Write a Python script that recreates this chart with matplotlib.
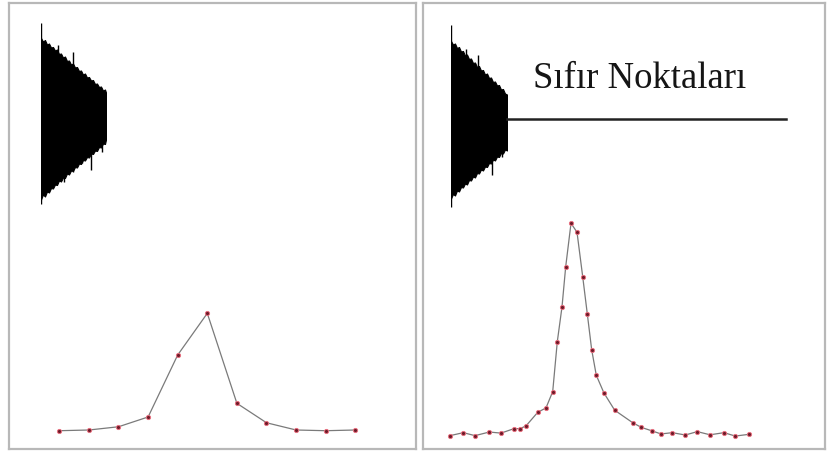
import matplotlib
matplotlib.use("Agg")
import matplotlib.pyplot as plt

W, H = 829, 454

# ---------------- data ----------------
# Left spectrum (11 points, no zero filling)
left_freq = [0, 1, 2, 3, 4, 5, 6, 7, 8, 9, 10]
left_int = [0.25, 0.85, 3.6, 11.9, 64.6, 100.0, 23.5, 7.0, 0.85, 0.25, 0.85]

# Right spectrum (zero filled, 33 points)
right_freq = [-121, -107.7, -96, -81.7, -70, -57, -51, -45, -33.3, -25, -18.3,
              -13.7, -9, -5.3, 0, 6, 11.7, 16.3, 20.7, 25.3, 33, 43.7, 61.7,
              70.3, 81.3, 90, 101.3, 114.3, 126.3, 139, 153, 164.3, 177.7]
right_int = [-0.3, 1.1, -0.3, 1.4, 0.9, 3.0, 3.0, 4.3, 10.7, 12.8, 20.5,
             44.1, 60.5, 79.5, 100.0, 95.8, 74.8, 57.2, 40.2, 28.2, 19.8, 11.7, 5.8,
             3.6, 1.9, 0.5, 1.1, 0.0, 1.6, 0.1, 1.1, -0.5, 0.3]

# FID envelopes (time vs amplitude)
left_t = [0, 2, 4, 6, 8, 10, 12, 14, 16, 18, 20, 22, 24, 26, 28, 30, 32, 34,
          36, 38, 40, 42, 44, 46, 48, 50, 52, 54, 56, 58, 60, 62, 64, 65]
left_up = [79.5, 76, 77.5, 73, 74, 70, 70.5, 67, 68, 63.5, 64, 60, 61, 56.5,
           57, 53, 54, 50, 50.5, 46.5, 47, 43, 44, 40, 40.5, 37, 37.5, 33.5,
           34, 30.5, 31, 27, 28, 25]
left_lo = [-82, -77, -79, -74, -75, -70.5, -71, -67, -67.5, -63, -64, -60,
           -60.5, -56, -57, -53, -53.5, -49.5, -50, -46, -46.5, -42.5, -43,
           -39.5, -40, -36, -36.5, -33, -33.5, -29.5, -30, -26, -26.5, -22]
left_spike_t = [0, 17, 32, 23, 32, 41, 50, 61]
left_spike_top = [94.5, 72.5, 66.0, 0, 0, 0, 0, 0]
left_spike_bot = [-86.0, 0, 0, -64.0, -54.0, -45.5, -52.5, -34.0]

right_t = [0, 2, 4, 6, 8, 10, 12, 14, 16, 18, 20, 22, 24, 26, 28, 30, 32, 34,
           36, 38, 40, 42, 44, 46, 48, 50, 52, 54, 56]
right_up = [77.5, 74, 75, 70.5, 71.5, 67, 67.5, 63, 64, 59.5, 60, 55.5, 56,
            51.5, 52.5, 48, 48.5, 44, 45, 40.5, 41, 36.5, 37, 33, 33.5, 29,
            29.5, 25, 24]
right_lo = [-80, -75.5, -77, -72, -73, -68.5, -69, -65, -66, -61.5, -62, -58,
            -59, -54.5, -55, -51, -52, -48, -48.5, -44.5, -45, -41, -42, -38,
            -38.5, -34.5, -35, -31, -32]
right_spike_t = [0, 15, 27, 41, 51]
right_spike_top = [93.5, 70.0, 63.5, 0, 0]
right_spike_bot = [-88.0, 0, 0, -56.5, -38.0]

# zero points appended to the right FID
zero_t = [56, 335]
zero_amp = [0, 0]

label_text = "Sıfır Noktaları"

# ---------------- helpers ----------------
def rect(x0, y0, x1, y1):
    return [x0 / W, 1 - y1 / H, (x1 - x0) / W, (y1 - y0) / H]

fig = plt.figure(figsize=(W / 100, H / 100), dpi=100)
fig.patch.set_facecolor("white")

# panels
for (x0, x1) in [(9, 416), (423, 825)]:
    ax = fig.add_axes(rect(x0, 3, x1, 449))
    ax.set_xticks([])
    ax.set_yticks([])
    for s in ax.spines.values():
        s.set_color("#b8b8b8")
        s.set_linewidth(1.6)
    ax.set_facecolor("white")

def spectrum(r, f, y, xlim):
    ax = fig.add_axes(r)
    ax.set_xlim(*xlim)
    ax.set_ylim(0, 100)
    ax.axis("off")
    ax.patch.set_alpha(0)
    ax.plot(f, y, color="#7a7a7a", lw=0.9, clip_on=False, zorder=2)
    ax.plot(f, y, ls="none", marker="o", ms=3.0, mfc="#6e1a28",
            mec="#e87080", mew=0.7, clip_on=False, zorder=3)

spectrum(rect(59.3, 313.3, 355.3, 431), left_freq, left_int, (0, 10))
spectrum(rect(450, 223.3, 748.7, 435), right_freq, right_int, (-121, 177.7))

def fid(x0, center, t, up, lo, st, stop, sbot, tmax):
    ax = fig.add_axes(rect(x0, center - 100, x0 + tmax, center + 100))
    ax.set_xlim(0, tmax)
    ax.set_ylim(-100, 100)
    ax.axis("off")
    ax.patch.set_alpha(0)
    ax.fill_between(t, lo, up, color="black", lw=0.8, edgecolor="black")
    ax.vlines(st, sbot, stop, color="black", lw=1.0)
    return ax

fid(41, 117.5, left_t, left_up, left_lo, left_spike_t,
    left_spike_top, left_spike_bot, 65)
axr = fid(451, 118.5, right_t, right_up, right_lo, right_spike_t,
          right_spike_top, right_spike_bot, 56)
axr.plot(zero_t, zero_amp, color="#222222", lw=1.8, clip_on=False)

fig.text(640 / W, 1 - 88 / H, label_text, ha="center", va="baseline",
         family=["Liberation Serif", "DejaVu Serif"], fontsize=26.5,
         color="#151515")

fig.savefig("out.png", dpi=100, facecolor="white")
